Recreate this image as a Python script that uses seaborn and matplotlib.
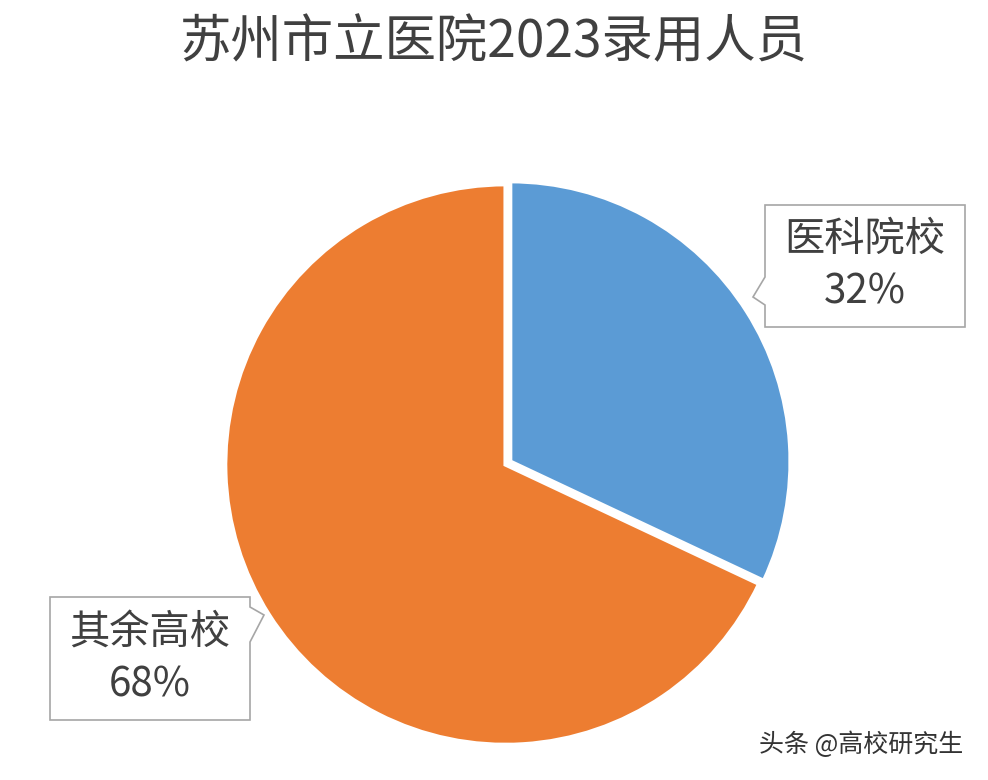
import matplotlib
matplotlib.use("Agg")
import matplotlib.pyplot as plt
import seaborn as sns
from matplotlib.patches import Polygon

categories = ["医科院校", "其余高校"]
values = [32, 68]
colors = ["#5B9BD5", "#ED7D31"]
title = "苏州市立医院2023录用人员"

sns.set_theme(style="white")
plt.rcParams['font.family'] = ['Noto Sans CJK SC', 'DejaVu Sans']

fig = plt.figure(figsize=(9.88, 7.8), dpi=100)
ax = fig.add_axes([0.228, 0.045, 0.573, 0.726])
ax.pie(values, colors=colors, startangle=90, counterclock=False,
       explode=[0.02, 0], wedgeprops=dict(edgecolor="white", linewidth=3))
ax.set_xlim(-1.0, 1.02)
ax.set_ylim(-1.0, 1.02)
ax.set_aspect("equal")

fig.text(0.5, 0.945, title, ha="center", va="center", fontsize=37, color="#404040")

W, H = 988, 780
def callout(x0, y0, x1, y1, ptr, text):
    if ptr == "left":
        pts = [(x0, y0), (x1, y0), (x1, y1), (x0, y1), (x0, y1 - 22), (x0 - 12, y1 - 30), (x0, y1 - 50)]
    else:
        pts = [(x0, y0), (x1, y0), (x1, y0 + 10), (x1 + 14, y0 + 18), (x1, y0 + 45), (x1, y1), (x0, y1)]
    pts = [(x / W, 1 - y / H) for x, y in pts]
    fig.patches.append(Polygon(pts, closed=True, transform=fig.transFigure,
                               facecolor="white", edgecolor="#A6A6A6", linewidth=1.2))
    fig.text((x0 + x1) / 2 / W, 1 - (y0 + y1) / 2 / H, text, ha="center", va="center",
             fontsize=29, color="#404040", linespacing=1.35)

callout(765, 205, 965, 327, "left", f"{categories[0]}\n{values[0]}%")
callout(50, 597, 250, 720, "right", f"{categories[1]}\n{values[1]}%")

fig.text(0.975, 0.045, "头条 @高校研究生", ha="right", va="center", fontsize=18, color="#333333")

fig.savefig("out.png", dpi=100)
